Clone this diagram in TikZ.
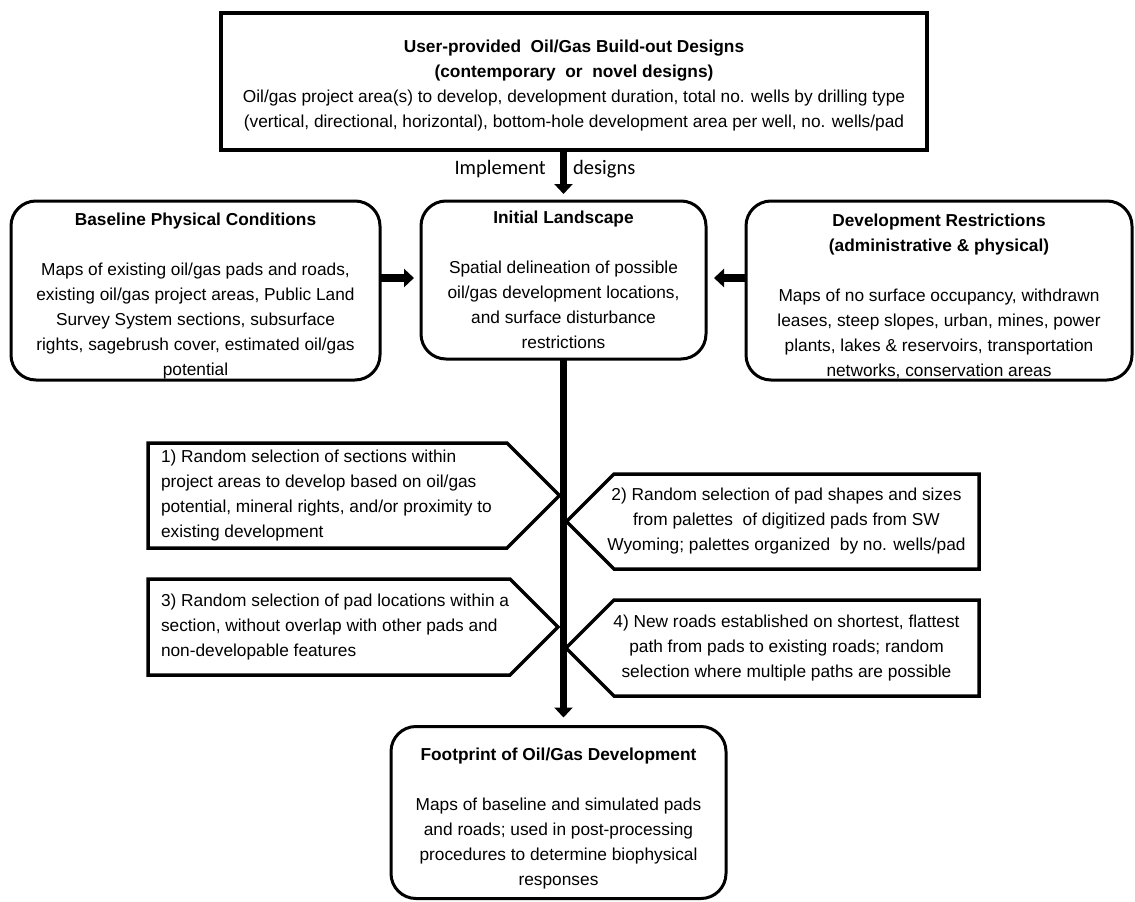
\documentclass[tikz,border=0pt]{standalone}
\usepackage{fontspec}
\setmainfont{Liberation Sans}
\newfontfamily\lblfont{Carlito}
\usetikzlibrary{arrows.meta,calc}
\tikzset{
  txt/.style={font=\fontsize{17.3}{25}\selectfont, inner sep=0pt, outer sep=0pt, align=center},
  topbox/.style={txt, draw, line width=3.5pt},
  roundbox/.style={txt, draw, line width=3pt, rounded corners=25pt},
  stepshape/.style={inner sep=0pt, outer sep=0pt},
  steptext/.style={font=\fontsize{17.3}{25}\selectfont, inner sep=0pt, outer sep=0pt},
  stepline/.style={line width=3.5pt, line join=miter},
  flow/.style={line width=7.5pt, -{Triangle[length=10pt,width=18pt]}},
  lbl/.style={font=\lblfont\fontsize{20.5}{24}\selectfont, inner sep=0pt}
}
\begin{document}
\begin{tikzpicture}[x=1pt,y=-1pt]
\useasboundingbox (0,0) rectangle (1135,902);

% top box
\node[topbox, minimum width=706, minimum height=137] (top) at (574,81.5)
 {\rule{0pt}{21pt}\textbf{User-provided\ \ Oil/Gas Build-out Designs}\\
  \textbf{(contemporary\ \ or\ \ novel designs)}\\
  Oil/gas project area(s) to develop, development duration, total no. wells by drilling type\\
  (vertical, directional, horizontal), bottom-hole development area per well, no. wells/pad};

% middle row
\node[roundbox, minimum width=369, minimum height=179] (base) at (195.5,290.5)
 {\rule{0pt}{24pt}\textbf{Baseline Physical Conditions}\\[25pt]
  Maps of existing oil/gas pads and roads,\\
  existing oil/gas project areas, Public Land\\
  Survey System sections, subsurface\\
  rights, sagebrush cover, estimated oil/gas\\
  potential};

\node[roundbox, minimum width=285, minimum height=158] (il) at (563.5,280)
 {\textbf{Initial Landscape}\\[25pt]
  Spatial delineation of possible\\
  oil/gas development locations,\\
  and surface disturbance\\
  restrictions};

\node[roundbox, minimum width=386, minimum height=179] (dev) at (939,290.5)
 {\rule{0pt}{24pt}\textbf{Development Restrictions}\\
  \textbf{(administrative \& physical)}\\[25pt]
  Maps of no surface occupancy, withdrawn\\
  leases, steep slopes, urban, mines, power\\
  plants, lakes \& reservoirs, transportation\\
  networks, conservation areas};

% bottom box
\node[roundbox, minimum width=335, minimum height=172] (fp) at (558.5,812.5)
 {\rule{0pt}{25pt}\textbf{Footprint of Oil/Gas Development}\\[25pt]
  Maps of baseline and simulated pads\\
  and roads; used in post-processing\\
  procedures to determine biophysical\\
  responses};

% step 1
\node[stepshape, minimum width=359, minimum height=105] (s1) at (327.5,495.5) {};
\draw[stepline] (s1.north west) -- (s1.north east) -- ($(s1.east)+(52.5,0)$) -- (s1.south east) -- (s1.south west) -- cycle;
\node[steptext, anchor=west, align=left] (t1) at ([xshift=13pt]s1.west)
 {1) Random selection of sections within\\
  project areas to develop based on oil/gas\\
  potential, mineral rights, and/or proximity to\\
  existing development};

% step 3
\node[stepshape, minimum width=362, minimum height=96] (s3) at (329,627) {};
\draw[stepline] (s3.north west) -- (s3.north east) -- ($(s3.east)+(48,0)$) -- (s3.south east) -- (s3.south west) -- cycle;
\node[steptext, anchor=west, align=left] (t3) at ([xshift=13pt]s3.west)
 {3) Random selection of pad locations within a\\
  section, without overlap with other pads and\\
  non-developable features};

% step 2
\node[stepshape, minimum width=365, minimum height=95] (s2) at (796.5,521.5) {};
\draw[stepline] (s2.north east) -- (s2.north west) -- ($(s2.west)+(-47.5,0)$) -- (s2.south west) -- (s2.south east) -- cycle;
\node[steptext, align=center] (t2) at ([xshift=-10pt]s2.center)
 {2) Random selection of pad shapes and sizes\\
  from palettes\ \ of digitized pads from SW\\
  Wyoming; palettes organized\ \ by no. wells/pad};

% step 4
\node[stepshape, minimum width=365, minimum height=96] (s4) at (796.5,648) {};
\draw[stepline] (s4.north east) -- (s4.north west) -- ($(s4.west)+(-48,0)$) -- (s4.south west) -- (s4.south east) -- cycle;
\node[steptext, align=center] (t4) at ([xshift=-10pt]s4.center)
 {4) New roads established on shortest, flattest\\
  path from pads to existing roads; random\\
  selection where multiple paths are possible};

% connectors
\draw[flow, shorten >=7pt] (il.north |- top.south) -- (il.north);
\node[lbl, anchor=east] (impl) at (546,169) {Implement};
\node[lbl, anchor=west] (desg) at (573,169) {designs};
\draw[flow, shorten >=7pt] (base.east |- 0,278) -- (il.west |- 0,278);
\draw[flow, shorten >=8pt] (dev.west |- 0,278) -- (il.east |- 0,278);
\draw[flow, shorten >=9pt] (il.south) -- (il.south |- fp.north);
\end{tikzpicture}
\end{document}
